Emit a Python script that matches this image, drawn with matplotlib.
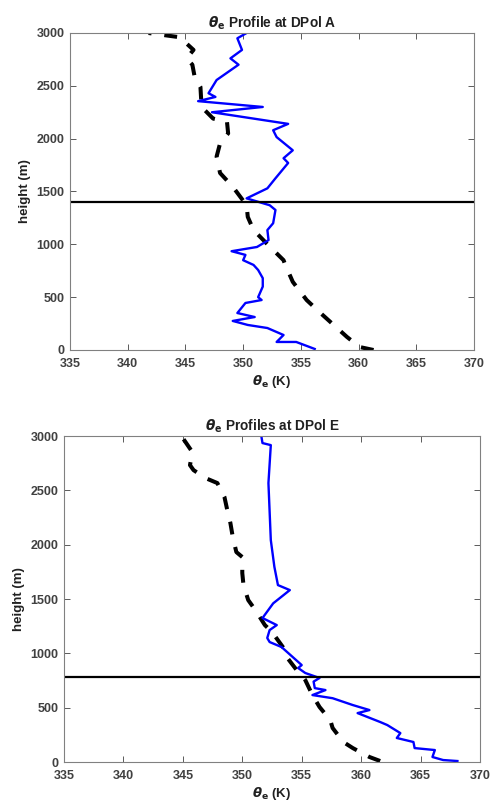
import numpy as np
import matplotlib.pyplot as plt

plt.rcParams["font.family"] = ["Liberation Sans", "DejaVu Sans"]
plt.rcParams["font.weight"] = "bold"
plt.rcParams["mathtext.fontset"] = "dejavusans"

# DPol A profiles (theta_e in K, height in m)
a_obs_theta = [356.2, 354.6, 352.9, 353.5, 352.1, 350.4, 349.1, 351.0, 349.5, 350.2,
               351.6, 351.3, 351.7, 351.7, 351.3, 350.9, 350.0, 350.2, 349.0, 351.2,
               352.2, 352.1, 352.6, 352.8, 352.3, 350.3, 352.1, 352.8, 353.9, 353.5,
               354.3, 352.9, 352.6, 353.9, 347.3, 351.7, 346.1, 347.6, 347.0, 347.7,
               349.6, 348.9, 349.9, 349.5, 350.3]
a_obs_z = [10, 76, 76, 142, 208, 237, 275, 312, 350, 445,
           473, 500, 600, 680, 757, 805, 850, 900, 935, 975,
           1040, 1135, 1200, 1325, 1370, 1435, 1530, 1625, 1770, 1815,
           1890, 2015, 2080, 2140, 2250, 2300, 2355, 2395, 2430, 2555,
           2700, 2760, 2840, 2950, 3000]
a_ref_theta = [361.3, 360.1, 359.0, 356.7, 355.5, 354.3, 353.6, 353.5, 352.2, 350.9,
               350.4, 350.3, 349.1, 348.0, 347.7, 348.0, 348.7, 348.6, 347.4, 346.4,
               346.3, 345.8, 345.6, 345.1, 345.7, 344.5, 341.8]
a_ref_z = [0, 28, 123, 350, 473, 645, 820, 850, 990, 1135,
           1260, 1370, 1545, 1675, 1830, 1955, 2050, 2160, 2190, 2300,
           2490, 2585, 2700, 2760, 2840, 2960, 3000]
a_top = 1400

# DPol E profiles
e_obs_theta = [368.1, 366.9, 366.0, 366.2, 364.5, 364.4, 363.0, 363.3, 362.2, 361.6,
               359.7, 360.7, 359.3, 357.6, 355.9, 357.0, 356.1, 356.0, 356.5, 355.3,
               354.7, 355.0, 353.3, 352.3, 352.1, 352.3, 352.9, 351.7, 352.6, 354.0,
               353.0, 352.7, 352.4, 352.2, 352.4, 351.7, 351.6]
e_obs_z = [9, 18, 46, 110, 128, 184, 221, 266, 340, 368,
           450, 478, 524, 587, 616, 662, 680, 740, 773, 819,
           865, 892, 1058, 1104, 1141, 1214, 1260, 1325, 1460, 1582,
           1628, 1796, 2042, 2567, 2916, 2935, 3000]
e_ref_theta = [361.6, 360.7, 359.3, 358.5, 357.6, 357.4, 356.5, 355.9, 355.3, 355.1,
               354.7, 353.8, 353.6, 352.5, 351.9, 351.1, 350.5, 350.1, 350.0, 350.0,
               349.5, 349.2, 349.0, 348.7, 348.5, 347.9, 346.9, 345.9, 345.6, 345.8,
               345.0]
e_ref_z = [9, 46, 128, 184, 313, 386, 506, 616, 754, 782,
           828, 957, 1030, 1196, 1260, 1398, 1490, 1628, 1739, 1886,
           1932, 2070, 2199, 2337, 2438, 2567, 2613, 2686, 2732, 2852,
           2980]
e_top = 780

panels = [
    (r"$\theta_{\mathbf{e}}$ Profile at DPol A", a_obs_theta, a_obs_z, a_ref_theta, a_ref_z, a_top,
     [70 / 491, 1 - 350 / 805, 404 / 491, 317 / 805]),
    (r"$\theta_{\mathbf{e}}$ Profiles at DPol E", e_obs_theta, e_obs_z, e_ref_theta, e_ref_z, e_top,
     [64 / 491, 1 - 762 / 805, 416 / 491, 326 / 805]),
]

fig = plt.figure(figsize=(4.91, 8.05), dpi=100)
grey = "#404040"

for title, ot, oz, rt, rz, top, rect in panels:
    ax = fig.add_axes(rect)
    ax.plot(rt, rz, color="k", lw=2.9, ls=(0, (3.2, 3.2)))
    ax.plot(ot, oz, color="#0000ff", lw=1.7)
    ax.axhline(top, color="k", lw=1.6)
    ax.set_xlim(335, 370)
    ax.set_ylim(0, 3000)
    ax.set_xticks(np.arange(335, 371, 5))
    ax.set_yticks(np.arange(0, 3001, 500))
    ax.tick_params(direction="in", top=True, right=True, length=4, width=0.6,
                   colors=grey, labelsize=9)
    ax.tick_params(axis="x", pad=6)
    ax.tick_params(axis="y", pad=4)
    for lab in ax.get_xticklabels() + ax.get_yticklabels():
        lab.set_fontweight("bold")
    for sp in ax.spines.values():
        sp.set_color("#808080")
        sp.set_linewidth(0.8)
    ax.set_title(title, fontsize=9.8, fontweight="bold", color="#202020", pad=4)
    ax.set_xlabel(r"$\theta_{\mathbf{e}}$ (K)", fontsize=9.5, fontweight="bold",
                  color="#202020", labelpad=2)
    ax.set_ylabel("height (m)", fontsize=9.5, fontweight="bold", color="#202020",
                  labelpad=4)

fig.savefig("out.png", dpi=100)
